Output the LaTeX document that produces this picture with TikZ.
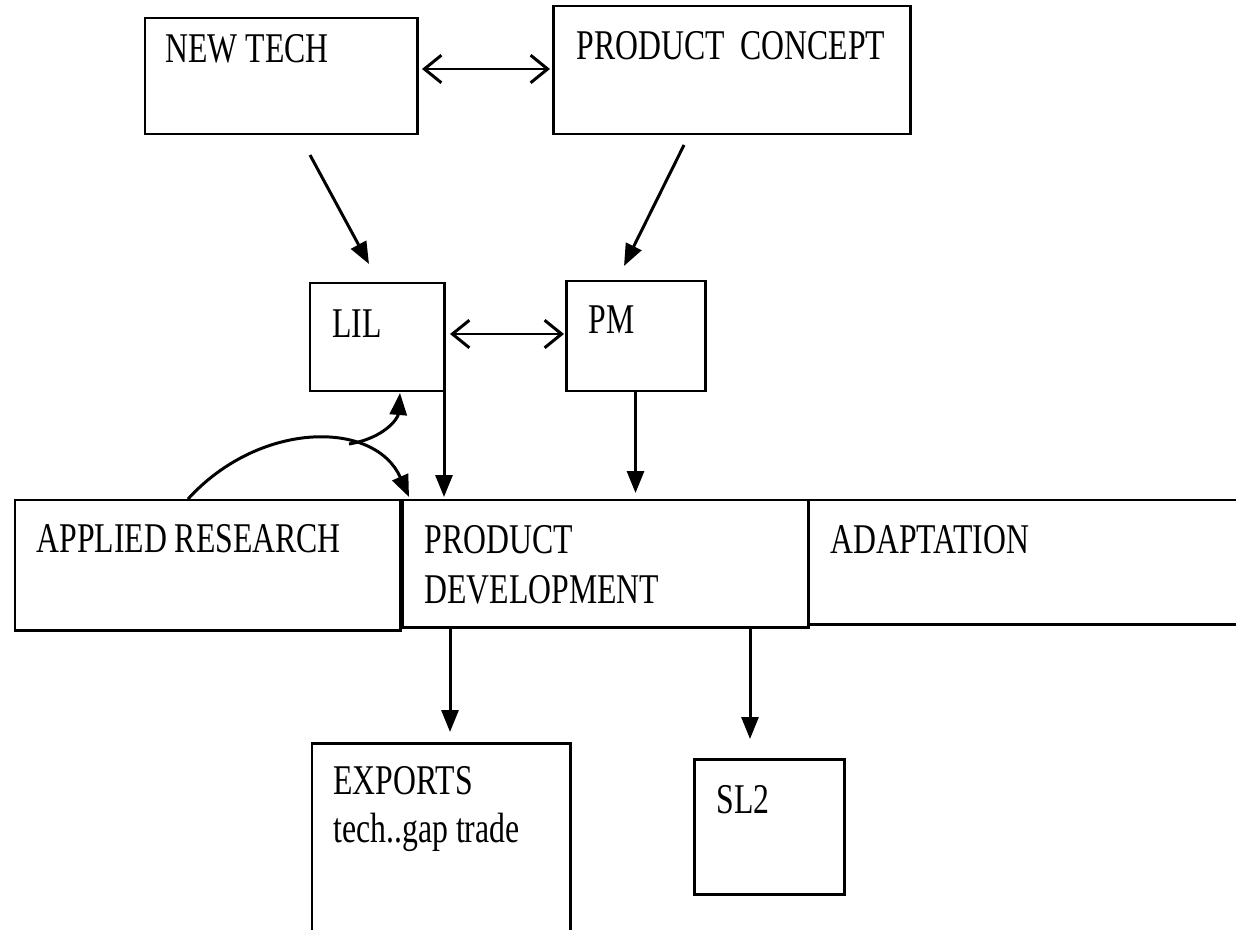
\documentclass[tikz,border=0pt]{standalone}
\usepackage{fontspec}
\setmainfont{Liberation Serif}
\newfontfamily\narrowserif[FakeStretch=0.75]{Liberation Serif}
\usetikzlibrary{arrows.meta,fit}

\begin{document}
\begin{tikzpicture}[x=0.02cm,y=-0.02cm,line width=1.7pt,
  box/.style={draw,rectangle,inner sep=0pt,outer sep=0pt},
  lbl/.style={anchor=base west,inner sep=0pt,
    font=\narrowserif\fontsize{24.1}{28.5}\selectfont},
  arr/.style={-{Triangle[length=0.44cm,width=0.34cm]}},
  dbl/.style={{Straight Barb[length=0.34cm,width=0.55cm]}-{Straight Barb[length=0.34cm,width=0.55cm]}}]

% page frame
\clip (0,0) rectangle (1236,929);

% boxes
\node[box,fit={(145,18)(417,134)}] (nt) {};
\node[box,fit={(553,6)(910,134)}] (pc) {};
\node[box,fit={(310,283)(444,391)}] (lil) {};
\node[box,fit={(566,281)(705,391)}] (pm) {};
\node[box,fit={(15,500)(400,630)}] (ar) {};
\node[box,fit={(402,500)(808,627)}] (pd) {};
\node[box,fit={(808,500)(1260,624)}] (ad) {};
\node[box,fit={(312,743)(570,960)}] (ex) {};
\node[box,fit={(694,759)(844,894)}] (sl) {};

% labels
\node[lbl] (ntt) at (164,63) {NEW TECH};
\node[lbl] (pct) at (575,60) {PRODUCT\ \ CONCEPT};
\node[lbl] (lilt) at (331,337) {LIL};
\node[lbl] (pmt) at (587,333) {PM};
\node[lbl] (art) at (35,552) {APPLIED RESEARCH};
\node[lbl] (pdt1) at (423,553) {PRODUCT};
\node[lbl] (pdt2) at (423,603) {DEVELOPMENT};
\node[lbl] (adt) at (829,553) {ADAPTATION};
\node[lbl] (ext1) at (332,794) {EXPORTS};
\node[lbl] (ext2) at (332,842) {tech..gap trade};
\node[lbl] (slt) at (715,813) {SL2};

% helper coordinates
\coordinate (ytop) at (0,69);
\coordinate (ymid) at (0,334);
\coordinate (ntout) at (310,155);
\coordinate (lilin) at (369,264);
\coordinate (pcout) at (684,145);
\coordinate (pmin) at (624,266);
\coordinate (xex) at (450,0);
\coordinate (xsl) at (750,0);
\coordinate (arstart) at (188,499);
\coordinate (pdin) at (409,497);
\coordinate (fork) at (349,444);
\coordinate (lilbot) at (400,393);

% connectors
\draw[dbl,shorten <=0.1cm,shorten >=0.06cm] (nt.east |- ytop) -- (pc.west |- ytop);
\draw[dbl,shorten <=0.12cm,shorten >=0.04cm] (lil.east |- ymid) -- (pm.west |- ymid);
\draw[arr] (ntout) -- (lilin);
\draw[arr] (pcout) -- (pmin);
\draw[arr,shorten >=0.06cm] (lil.south east) -- (lil.south east |- pd.north);
\draw[arr,shorten >=0.14cm] (pm.south) -- (pm.south |- pd.north);
\draw[arr,shorten >=0.22cm] (xex |- pd.south) -- (xex |- ex.north);
\draw[arr,shorten >=0.4cm] (xsl |- pd.south) -- (xsl |- sl.north);
\draw[arr] (arstart) .. controls (260,420) and (375,420) .. (pdin);
\draw[arr] (fork) .. controls (385,438) and (398,418) .. (lilbot);
\end{tikzpicture}
\end{document}
